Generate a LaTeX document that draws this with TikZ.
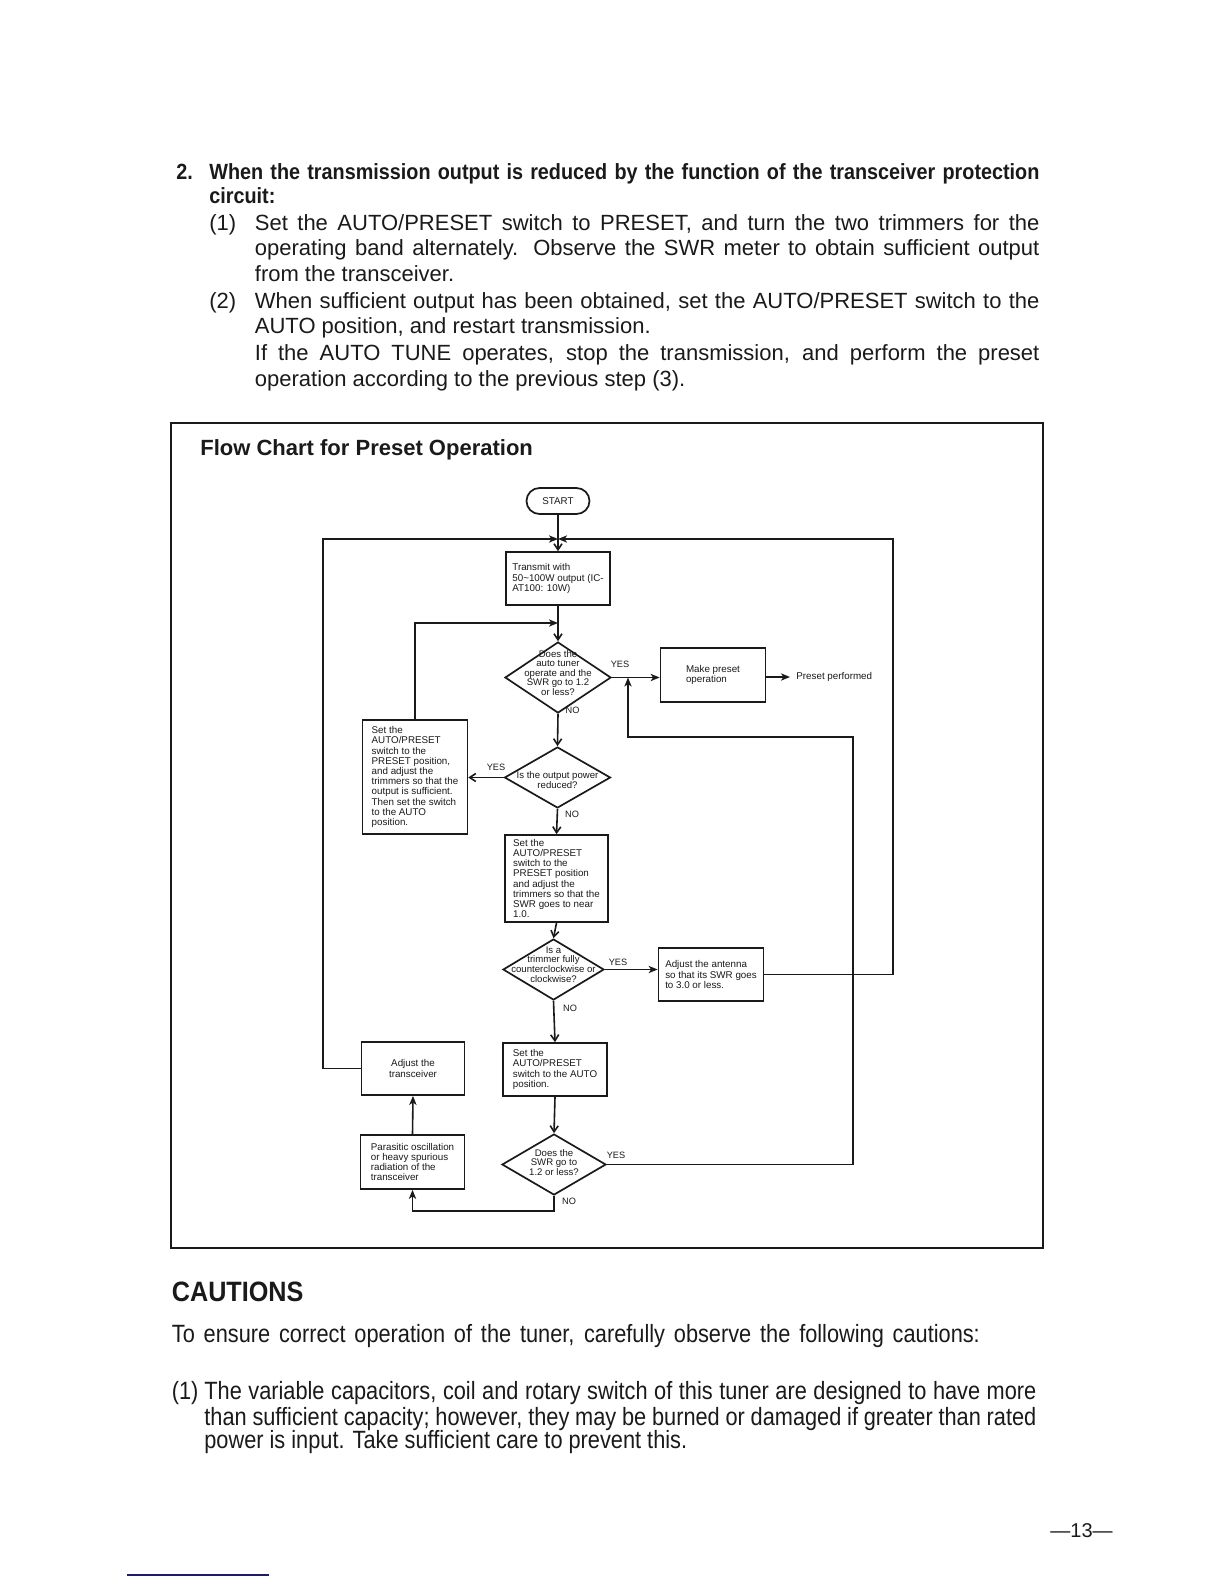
\documentclass[tikz,border=0pt]{standalone}
\usepackage{fontspec}
\setmainfont{Liberation Sans}
\newfontfamily\headfont{Liberation Sans}[FakeStretch=0.9]
\newfontfamily\narrowfont{Liberation Sans}[FakeStretch=0.87]
\usetikzlibrary{shapes.geometric,arrows.meta}
\definecolor{ink}{HTML}{1A1A1A}
\definecolor{navy}{HTML}{1C1C6E}
\newcommand\jl[2]{\makebox[#1][s]{#2}}
\newcommand\dtxt[2][0pt]{\smash{\makebox[0pt]{\raisebox{#1}{\begin{tabular}{@{}c@{}}#2\end{tabular}}}}}
\newcommand\fsbox{\fontsize{4.9pt}{5.1pt}\selectfont}
\newcommand\fsdia{\fontsize{4.8pt}{4.5pt}\selectfont}
\newcommand\fsbody{\fontsize{11pt}{12.5pt}\selectfont}
\newcommand\fshead{\headfont\bfseries\fontsize{11pt}{12.5pt}\selectfont}
\newcommand\fscaut{\narrowfont\fontsize{12.5pt}{13pt}\selectfont}
\tikzset{
  txt/.style={anchor=base west, inner sep=0pt, text=ink},
  box/.style={draw=ink, line width=0.85pt, inner sep=0pt, align=left, font=\fsbox, text=ink},
  dia/.style={draw=ink, line width=0.85pt, diamond, inner sep=0pt, font=\fsdia, text=ink},
  link/.style={draw=ink, line width=0.8pt},
  arrd/.style={link, -{Straight Barb[length=3pt,width=4pt]}},
  arrs/.style={link, -{Stealth[length=4.5pt,width=3.6pt,inset=1.2pt]}},
  lbl/.style={font=\fontsize{4.6pt}{5pt}\selectfont, inner sep=0pt, text=ink},
  frame/.style={draw=ink, line width=0.7pt}
}
\begin{document}
\begin{tikzpicture}[x=0.5pt,y=-0.5pt]
\useasboundingbox (0,0) rectangle (1224,1584);
\fill[white] (0,0) rectangle (1224,1584);

% ---------- top text ----------
\node[txt, font=\fshead] (h0) at (176,179) {2.};
\node[txt, font=\fshead] (h1) at (209,179) {\jl{415pt}{When the transmission output is reduced by the function of the transceiver protection}};
\node[txt, font=\fshead] (h2) at (209,203) {circuit:};
\node[txt, font=\fsbody] (p1n) at (209,230) {(1)};
\node[txt, font=\fsbody] (p1a) at (254.5,230) {\jl{392.25pt}{Set the AUTO/PRESET switch to PRESET, and turn the two trimmers for the}};
\node[txt, font=\fsbody] (p1b) at (254.5,255.5) {\jl{392.25pt}{operating band alternately. Observe the SWR meter to obtain sufficient output}};
\node[txt, font=\fsbody] (p1c) at (254.5,281) {from the transceiver.};
\node[txt, font=\fsbody] (p2n) at (209,308) {(2)};
\node[txt, font=\fsbody] (p2a) at (254.5,308) {\jl{392.25pt}{When sufficient output has been obtained, set the AUTO/PRESET switch to the}};
\node[txt, font=\fsbody] (p2b) at (254.5,333) {AUTO position, and restart transmission.};
\node[txt, font=\fsbody] (p2c) at (254.5,360.5) {\jl{392.25pt}{If the AUTO TUNE operates, stop the transmission, and perform the preset}};
\node[txt, font=\fsbody] (p2d) at (254.5,386) {operation according to the previous step (3).};

% ---------- frame ----------
\draw[frame] (171,423) rectangle (1043,1248);
\node[txt, font=\bfseries\fontsize{11pt}{12.5pt}\selectfont] (title) at (200,455) {Flow Chart for Preset Operation};

% ---------- flowchart nodes ----------
\node[draw=ink, line width=0.85pt, rounded corners=6.5pt, minimum width=31.5pt, minimum height=13pt, inner sep=0pt, font=\fsbox, text=ink] (start) at (558,501) {START};
\node[box, minimum width=52pt, minimum height=26.5pt] (tx) at (558,578.5) {Transmit with\\50\textasciitilde100W output (IC-\\AT100: 10W)};
\node[dia, minimum width=53pt, minimum height=35.5pt] (d1) at (558,677.5) {\dtxt[0.3pt]{Does the\\auto tuner\\operate and the\\SWR go to 1.2\\or less?}};
\node[box, minimum width=52.5pt, minimum height=27pt] (mk) at (713,675) {Make preset\\operation};
\node[anchor=west, inner sep=3pt, font=\fsbox, text=ink] (pp) at (790,677) {Preset performed};
\node[box, minimum width=52.5pt, minimum height=57pt] (setL) at (415,777) {Set the\\AUTO/PRESET\\switch to the\\PRESET position,\\and adjust the\\trimmers so that the\\output is sufficient.\\Then set the switch\\to the AUTO\\position.};
\node[dia, minimum width=53pt, minimum height=30.5pt] (d2) at (557.5,777.5) {\dtxt[-3.2pt]{Is the output power\\reduced?}};
\node[box, minimum width=51.5pt, minimum height=43.5pt] (b3) at (556.5,878.5) {Set the\\AUTO/PRESET\\switch to the\\PRESET position\\and adjust the\\trimmers so that the\\SWR goes to near\\1.0.};
\node[dia, minimum width=50.5pt, minimum height=30.5pt] (d3) at (553.5,969.5) {\dtxt[0.6pt]{Is a\\trimmer fully\\counterclockwise or\\clockwise?}};
\node[box, minimum width=52.5pt, minimum height=26.5pt] (ant) at (711,974.5) {Adjust the antenna\\so that its SWR goes\\to 3.0 or less.};
\node[box, minimum width=52pt, minimum height=26.5pt] (b4) at (555,1069.5) {Set the\\AUTO/PRESET\\switch to the AUTO\\position.};
\node[dia, minimum width=52pt, minimum height=30.5pt] (d4) at (554,1164.5) {\dtxt[-0.7pt]{Does the\\SWR go to\\1.2 or less?}};
\node[box, align=center, minimum width=51.5pt, minimum height=26.5pt] (adjT) at (413,1068.5) {Adjust the\\transceiver};
\node[box, minimum width=52pt, minimum height=27pt] (par) at (412.5,1162) {Parasitic oscillation\\or heavy spurious\\radiation of the\\transceiver};

% ---------- labels ----------
\node[lbl] (y1) at (620,664.5) {YES};
\node[lbl] (n1) at (572.5,710) {NO};
\node[lbl] (y2) at (496,767.5) {YES};
\node[lbl] (n2) at (572,814) {NO};
\node[lbl] (y3) at (618,962) {YES};
\node[lbl] (n3) at (570,1008) {NO};
\node[lbl] (y4) at (616,1155.5) {YES};
\node[lbl] (n4) at (569,1201) {NO};

% ---------- corner coordinates ----------
\coordinate (jT) at (558,539);
\coordinate (jM) at (558,623);
\coordinate (cL1) at (323,1068.5);
\coordinate (cL2) at (323,539);
\coordinate (cR1) at (893,974.5);
\coordinate (cR2) at (893,539);
\coordinate (cS) at (415,623);
\coordinate (cY1) at (853,1164.5);
\coordinate (cY2) at (853,737);
\coordinate (cY3) at (628,737);
\coordinate (cY4) at (628,677.5);
\coordinate (cN1) at (554,1211);
\coordinate (cN2) at (412.5,1211);

% ---------- connectors ----------
\draw[arrd] (start.south) -- (tx.north);
\draw[arrs] (adjT.west) -- (cL1) -- (cL2) -- (jT);
\draw[arrs] (ant.east) -- (cR1) -- (cR2) -- (jT);
\draw[arrd] (tx.south) -- (d1.north);
\draw[arrs] (setL.north) -- (cS) -- (jM);
\draw[arrs] (d1.east) -- (d1.east -| mk.west);
\draw[arrs] (mk.east |- pp.west) -- (pp.west);
\draw[arrs] (d4.east) -- (cY1) -- (cY2) -- (cY3) -- (cY4);
\draw[arrd] (d1.south) -- (d2.north);
\draw[arrd] (d2.west) -- (d2.west -| setL.east);
\draw[arrd] (d2.south) -- (b3.north);
\draw[arrd] (b3.south) -- (d3.north);
\draw[arrs] (d3.east) -- (d3.east -| ant.west);
\draw[arrd] (d3.south) -- (b4.north);
\draw[arrd] (b4.south) -- (d4.north);
\draw[arrs] (d4.south) -- (cN1) -- (cN2) -- (par.south);
\draw[arrs] (par.north) -- (adjT.south);

% ---------- cautions ----------
\node[txt, font=\headfont\bfseries\fontsize{14pt}{15pt}\selectfont] (ct) at (171.5,1301) {CAUTIONS};
\node[txt, font=\fscaut] (c0) at (171.5,1342) {\jl{404pt}{To ensure correct operation of the tuner, carefully observe the following cautions:}};
\node[txt, font=\fscaut] (c1n) at (171.5,1399) {(1)};
\node[txt, font=\fscaut] (c1) at (204,1399) {\jl{416pt}{The variable capacitors, coil and rotary switch of this tuner are designed to have more}};
\node[txt, font=\fscaut] (c2) at (204,1425) {\jl{416pt}{than sufficient capacity; however, they may be burned or damaged if greater than rated}};
\node[txt, font=\fscaut] (c3) at (204,1448) {power is input. Take sufficient care to prevent this.};

\node[txt, font=\fontsize{10pt}{12pt}\selectfont] (pg) at (1050,1537) {\textemdash13\textemdash};

\draw[navy, line width=0.6pt] (127,1575) -- (269,1575);
\end{tikzpicture}
\end{document}
